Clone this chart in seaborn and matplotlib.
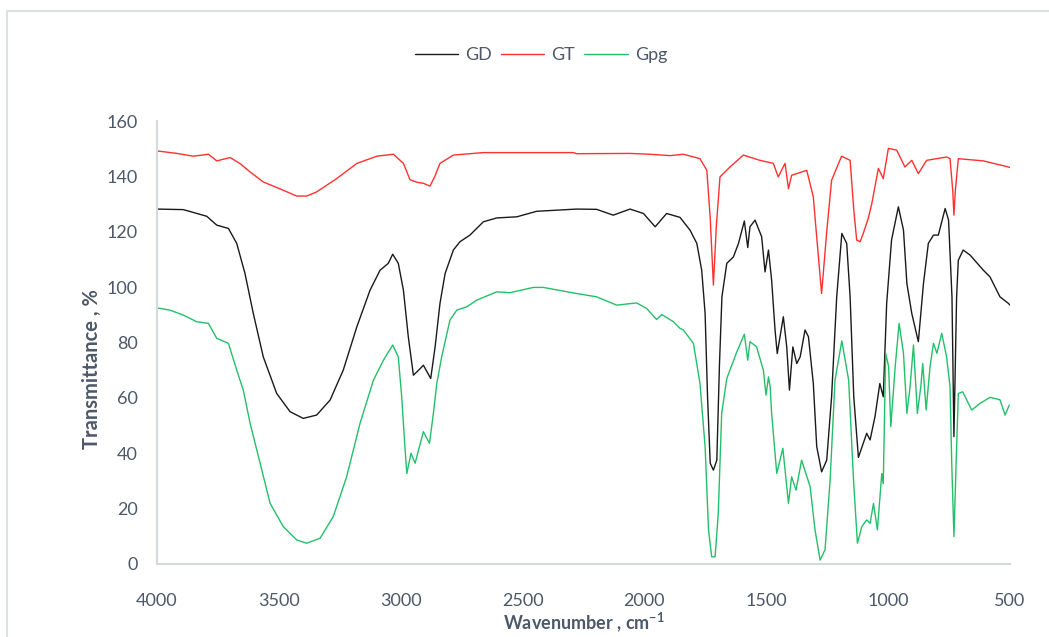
import pandas as pd
import seaborn as sns
import matplotlib.pyplot as plt
from matplotlib.patches import Rectangle

sns.set_style("white")
plt.rcParams['font.family'] = ['Lato', 'DejaVu Sans']
plt.rcParams['mathtext.fontset'] = 'custom'
plt.rcParams['mathtext.rm'] = 'Lato'
plt.rcParams['mathtext.bf'] = 'Lato:bold'

# values (wavenumber, transmittance %)
gd_x = [4000, 3892, 3796, 3755, 3707, 3673, 3639, 3605, 3564, 3509, 3454, 3400, 3345, 3290,
        3236, 3180, 3126, 3085, 3051, 3033, 3010, 2989, 2969, 2948, 2921, 2907, 2877, 2859,
        2839, 2818, 2784, 2757, 2716, 2661, 2606, 2524, 2442, 2278, 2196, 2128, 2059, 2004,
        1956, 1909, 1854, 1813, 1785, 1765, 1751, 1741, 1730, 1717, 1703, 1692, 1682, 1662,
        1635, 1614, 1590, 1576, 1567, 1546, 1519, 1505, 1491, 1478, 1464, 1455, 1430, 1416,
        1405, 1391, 1375, 1361, 1341, 1327, 1307, 1293, 1273, 1252, 1232, 1211, 1190, 1170,
        1156, 1141, 1122, 1088, 1074, 1054, 1034, 1020, 1006, 986, 958, 937, 923, 903, 876,
        855, 835, 814, 794, 766, 752, 738, 730, 719, 712, 692, 664, 609, 582, 541, 506, 500]
gd_y = [128.2, 128.0, 125.6, 122.4, 121.2, 115.8, 104.9, 90.5, 74.8, 61.6, 55.0, 52.6, 53.8, 59.2,
        70.0, 85.7, 98.9, 106.1, 108.6, 111.9, 108.6, 98.9, 82.1, 68.2, 70.5, 71.8, 67.0, 78.4,
        94.1, 104.9, 113.4, 116.4, 118.8, 123.6, 125.0, 125.4, 127.4, 128.2, 128.1, 126.0, 128.2, 126.6,
        121.8, 126.6, 125.2, 120.6, 115.8, 106.1, 90.5, 60.4, 36.4, 33.9, 37.5, 72.4, 96.5, 108.6,
        110.9, 115.8, 123.9, 114.3, 121.8, 124.2, 118.2, 105.5, 113.4, 102.5, 84.5, 76.0, 89.3, 78.4,
        62.8, 78.4, 72.4, 74.8, 84.5, 82.1, 65.2, 42.4, 33.3, 37.5, 60.4, 96.5, 119.4, 115.8,
        96.5, 60.4, 38.5, 47.2, 44.8, 53.2, 65.2, 60.4, 94.1, 117.0, 129.0, 120.6, 101.3, 90.5, 80.3,
        101.3, 115.8, 118.8, 118.8, 128.4, 124.2, 96.5, 46.0, 96.5, 109.7, 113.4, 111.6, 106.1, 103.7, 96.5, 94.1, 93.5]

gt_x = [4000, 3918, 3851, 3789, 3755, 3700, 3659, 3618, 3564, 3482, 3427, 3386, 3345, 3263,
        3180, 3098, 3030, 2989, 2962, 2934, 2907, 2880, 2860, 2839, 2784, 2661, 2292, 2278,
        2059, 1977, 1895, 1840, 1772, 1744, 1730, 1717, 1705, 1690, 1649, 1594, 1526, 1471,
        1451, 1423, 1409, 1396, 1334, 1307, 1293, 1273, 1252, 1232, 1191, 1156, 1141, 1129,
        1115, 1102, 1081, 1067, 1040, 1020, 999, 965, 931, 903, 876, 842, 760, 746, 735, 730,
        724, 712, 609, 506, 500]
gt_y = [149.2, 148.3, 147.3, 148.0, 145.6, 146.8, 144.6, 141.6, 138.0, 135.0, 132.9, 132.9, 134.4, 139.2,
        144.7, 147.3, 148.0, 144.7, 138.8, 137.9, 137.5, 136.5, 140.0, 144.7, 147.7, 148.6, 148.6, 148.2,
        148.3, 148.0, 147.5, 148.0, 146.4, 142.2, 125.0, 100.7, 122.0, 139.8, 143.4, 147.7, 145.8, 144.7,
        139.8, 144.7, 135.6, 140.4, 142.2, 132.6, 118.0, 97.7, 120.0, 138.6, 147.3, 145.8, 128.0, 117.0,
        116.4, 119.4, 125.0, 130.2, 142.9, 139.2, 150.1, 149.5, 143.4, 145.8, 141.0, 145.8, 147.0, 146.4, 135.0, 126.0,
        135.0, 146.4, 145.6, 143.4, 143.2]

gpg_x = [4000, 4000, 3947, 3892, 3837, 3789, 3755, 3707, 3673, 3646, 3618, 3577, 3536, 3482,
         3427, 3386, 3331, 3277, 3222, 3167, 3112, 3071, 3033, 3010, 2996, 2982, 2975, 2958,
         2941, 2907, 2882, 2866, 2852, 2832, 2798, 2770, 2729, 2688, 2606, 2551, 2456, 2415,
         2278, 2196, 2114, 2032, 1991, 1950, 1929, 1881, 1854, 1840, 1799, 1772, 1751, 1737,
         1724, 1710, 1697, 1683, 1662, 1621, 1590, 1576, 1567, 1540, 1512, 1501, 1491, 1484,
         1478, 1457, 1432, 1409, 1396, 1378, 1355, 1320, 1300, 1279, 1259, 1238, 1218, 1190,
         1162, 1142, 1126, 1108, 1088, 1074, 1060, 1044, 1026, 1020, 1010, 998, 989, 971, 955,
         937, 923, 910, 896, 880, 866, 858, 844, 828, 814, 800, 780, 760, 746, 739, 730, 721,
         712, 694, 657, 623, 582, 541, 520, 503]
gpg_y = [0.0, 92.5, 91.7, 89.9, 87.5, 86.9, 81.5, 79.7, 70.0, 62.8, 50.8, 36.4, 21.9, 13.5,
         8.7, 7.5, 9.3, 17.1, 31.5, 50.8, 66.4, 73.6, 79.1, 74.8, 60.4, 41.2, 32.7, 40.0,
         36.4, 47.8, 43.6, 54.4, 65.2, 74.8, 88.1, 91.7, 92.9, 95.3, 98.3, 98.0, 99.9, 99.9,
         97.7, 96.5, 93.5, 94.3, 92.3, 88.3, 90.1, 87.5, 85.1, 84.5, 79.7, 65.2, 42.4, 12.3,
         2.6, 2.6, 18.3, 54.4, 67.0, 76.6, 83.0, 73.6, 80.3, 78.5, 70.0, 61.0, 67.6, 64.0,
         54.4, 32.7, 41.8, 21.9, 31.5, 26.7, 37.5, 27.9, 12.3, 1.4, 5.1, 30.3, 66.4, 80.6,
         66.4, 30.3, 7.5, 13.5, 15.9, 14.7, 21.9, 12.3, 32.7, 29.0, 76.1, 71.3, 49.6, 71.3, 86.9,
         76.1, 54.4, 64.0, 79.1, 54.4, 64.0, 72.4, 55.6, 71.3, 79.7, 76.1, 83.3, 74.8, 64.0, 36.4, 9.9, 36.4,
         61.6, 62.2, 55.6, 58.0, 60.2, 59.3, 53.8, 57.4]

df = pd.concat([
    pd.DataFrame({"wavenumber": gd_x, "T": gd_y, "sample": "GD"}),
    pd.DataFrame({"wavenumber": gt_x, "T": gt_y, "sample": "GT"}),
    pd.DataFrame({"wavenumber": gpg_x, "T": gpg_y, "sample": "Gpg"}),
], ignore_index=True)

colors = {"GD": "#1a1a1a", "GT": "#ff3030", "Gpg": "#22c06a"}
text_col = "#4d5869"

fig = plt.figure(figsize=(10.49, 6.37), dpi=100)
ax = fig.add_axes([0.1497, 0.1146, 0.8131, 0.6954])

sns.lineplot(data=df, x="wavenumber", y="T", hue="sample", palette=colors,
             estimator=None, sort=False, linewidth=1.0, ax=ax)

ax.set_xlim(4000, 500)
ax.set_ylim(0, 160)
ax.set_xticks(range(4000, 499, -500))
ax.set_yticks(range(0, 161, 20))
ax.tick_params(axis="both", length=0, labelsize=13, labelcolor=text_col)
ax.tick_params(axis="y", pad=14)
ax.tick_params(axis="x", pad=21)

for s in ["top", "right"]:
    ax.spines[s].set_visible(False)
for s in ["left", "bottom"]:
    ax.spines[s].set_color("#d5d9e0")
    ax.spines[s].set_linewidth(1.5)

ax.set_xlabel(r"Wavenumber , cm$^{\mathbf{-1}}$", fontsize=13, fontweight="bold",
              color=text_col, labelpad=1)
ax.set_ylabel("Transmittance , %", fontsize=14.5, fontweight="bold", color=text_col)
ax.yaxis.set_label_coords(-0.0645, 0.44)

ax.legend(loc="center", bbox_to_anchor=(0.45, 1.149), ncol=3, frameon=False,
          fontsize=13, handlelength=2.4, handletextpad=0.4, columnspacing=0.5,
          labelcolor=text_col)

# light chart border like the original export
fig.add_artist(Rectangle((0.0067, -0.5), 2, 1.4827, transform=fig.transFigure,
                         fill=False, edgecolor="#dde1e6", linewidth=1.5))

fig.savefig("out.png", dpi=100)
